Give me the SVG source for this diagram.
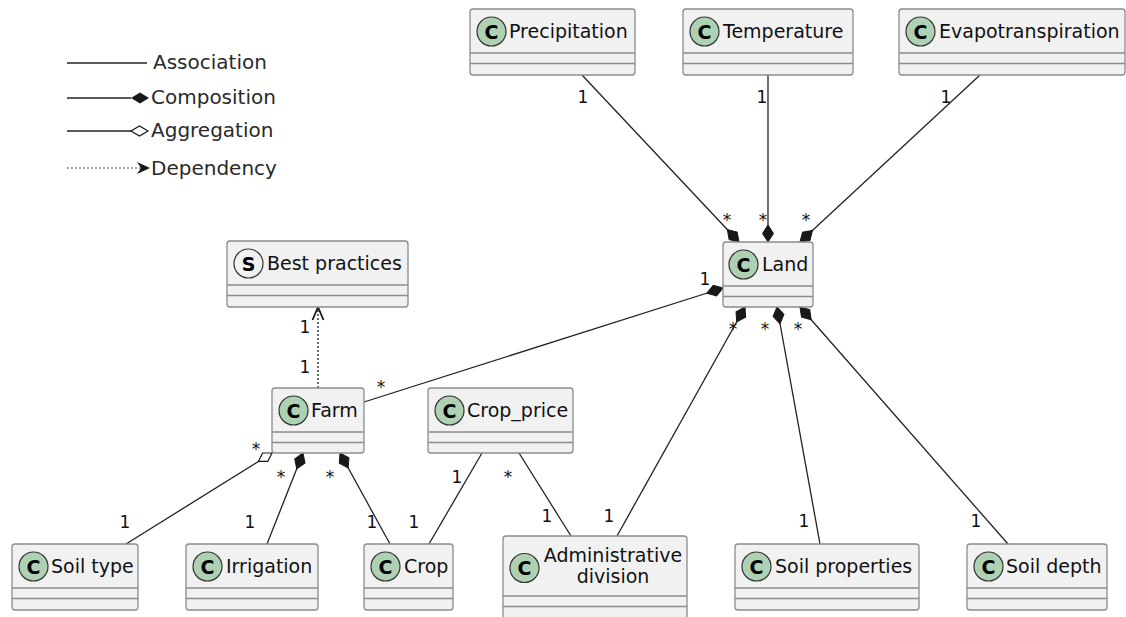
<svg xmlns="http://www.w3.org/2000/svg" width="1126" height="617" viewBox="0 0 1126 617">
<style>
.box{fill:#F1F1F1;stroke:#8C8C8C;stroke-width:1.3}
.sep{stroke:#8C8C8C;stroke-width:1.3}
.circ{fill:#ADD1B2;stroke:#333;stroke-width:1.2}
.circS{fill:#F1F1F1;stroke:#333;stroke-width:1.2}
.ltr{font-family:"DejaVu Sans",sans-serif;font-size:19px;font-weight:bold;fill:#000;text-anchor:middle}
.name{font-family:"DejaVu Sans",sans-serif;font-size:19px;fill:#111}
.lbl{font-family:"DejaVu Sans",sans-serif;font-size:17px;fill:#111;text-anchor:middle}
.leg{font-family:"DejaVu Sans",sans-serif;font-size:20px;fill:#2a2a2a}
.ln{stroke:#222;stroke-width:1.3;fill:none}
.comp{marker-end:url(#dFill)}
.aggr{marker-end:url(#dHollow)}
.dep{stroke-dasharray:2,2;marker-end:url(#open)}
</style>
<defs>
<marker id="dFill" markerUnits="userSpaceOnUse" markerWidth="20" markerHeight="14" viewBox="-18 -7 20 14" refX="0" refY="0" orient="auto" overflow="visible">
<path d="M0,0 L-8.5,-5.5 L-17,0 L-8.5,5.5 Z" fill="#181818" stroke="#181818" stroke-width="1"/>
</marker>
<marker id="dHollow" markerUnits="userSpaceOnUse" markerWidth="20" markerHeight="14" viewBox="-18 -7 20 14" refX="0" refY="0" orient="auto" overflow="visible">
<path d="M0,0 L-8,-5 L-16,0 L-8,5 Z" fill="#fff" stroke="#181818" stroke-width="1.2"/>
</marker>
<marker id="open" markerUnits="userSpaceOnUse" markerWidth="20" markerHeight="16" viewBox="-16 -8 20 16" refX="0" refY="0" orient="auto" overflow="visible">
<path d="M-13,-5.5 L0,0 L-13,5.5" fill="none" stroke="#181818" stroke-width="1.8"/>
</marker>
</defs>

<g id="legend">
<line class="ln" x1="67" y1="63" x2="147" y2="63"/>
<text class="leg" x="153" y="69">Association</text>
<line class="ln" x1="67" y1="98" x2="131" y2="98"/>
<path d="M149,98 L140,92.5 L131,98 L140,103.5 Z" fill="#181818"/>
<text class="leg" x="151" y="104">Composition</text>
<line class="ln" x1="67" y1="131" x2="131" y2="131"/>
<path d="M148,131 L139.5,126 L131,131 L139.5,136 Z" fill="#fff" stroke="#181818" stroke-width="1.2"/>
<text class="leg" x="151" y="137">Aggregation</text>
<line x1="67" y1="168" x2="143" y2="168" stroke="#444" stroke-width="1.2" stroke-dasharray="2,2"/>
<path d="M150,168 L137,162 L141,168 L137,174 Z" fill="#181818"/>
<text class="leg" x="151" y="175">Dependency</text>
</g>

<g id="connectors">
<line class="ln comp" x1="582" y1="75" x2="739" y2="242"/>
<line class="ln comp" x1="768" y1="75" x2="768" y2="242"/>
<line class="ln comp" x1="980" y1="75" x2="800" y2="242"/>
<line class="ln comp" x1="364" y1="402" x2="723" y2="288"/>
<line class="ln comp" x1="617" y1="536" x2="745" y2="307"/>
<line class="ln comp" x1="820" y1="544" x2="777" y2="307"/>
<line class="ln comp" x1="1008" y1="544" x2="800" y2="307"/>
<line class="ln dep" x1="318" y1="388" x2="318" y2="307"/>
<line class="ln aggr" x1="126" y1="544" x2="272" y2="453"/>
<line class="ln comp" x1="267" y1="544" x2="303" y2="453"/>
<line class="ln comp" x1="390" y1="544" x2="340" y2="453"/>
<line class="ln" x1="482" y1="453" x2="429" y2="544"/>
<line class="ln" x1="519" y1="453" x2="571" y2="536"/>
<g id="labels">
<text class="lbl" x="583" y="103">1</text>
<text class="lbl" x="727" y="226">*</text>
<text class="lbl" x="762" y="103">1</text>
<text class="lbl" x="763" y="226">*</text>
<text class="lbl" x="946" y="103">1</text>
<text class="lbl" x="806" y="226">*</text>
<text class="lbl" x="705" y="285">1</text>
<text class="lbl" x="381" y="393">*</text>
<text class="lbl" x="733" y="335">*</text>
<text class="lbl" x="765" y="335">*</text>
<text class="lbl" x="798" y="335">*</text>
<text class="lbl" x="609" y="522">1</text>
<text class="lbl" x="804" y="527">1</text>
<text class="lbl" x="976" y="527">1</text>
<text class="lbl" x="305" y="333">1</text>
<text class="lbl" x="305" y="373">1</text>
<text class="lbl" x="256" y="455">*</text>
<text class="lbl" x="125" y="528">1</text>
<text class="lbl" x="281" y="483">*</text>
<text class="lbl" x="250" y="528">1</text>
<text class="lbl" x="330" y="483">*</text>
<text class="lbl" x="372" y="528">1</text>
<text class="lbl" x="457" y="483">1</text>
<text class="lbl" x="414" y="528">1</text>
<text class="lbl" x="508" y="483">*</text>
<text class="lbl" x="547" y="522">1</text>
</g>
</g>

<g id="Precipitation">
<rect class="box" x="470" y="9" width="165" height="66" rx="3"/>
<line class="sep" x1="470" y1="53" x2="635" y2="53"/><line class="sep" x1="470" y1="63.5" x2="635" y2="63.5"/>
<circle class="circ" cx="491.5" cy="31.5" r="14.5"/><text class="ltr" x="491.5" y="38.5">C</text>
<text class="name" x="509" y="38">Precipitation</text>
</g>
<g id="Temperature">
<rect class="box" x="683" y="9" width="170" height="66" rx="3"/>
<line class="sep" x1="683" y1="53" x2="853" y2="53"/><line class="sep" x1="683" y1="63.5" x2="853" y2="63.5"/>
<circle class="circ" cx="704.5" cy="31.5" r="14.5"/><text class="ltr" x="704.5" y="38.5">C</text>
<text class="name" x="723" y="38">Temperature</text>
</g>
<g id="Evapotranspiration">
<rect class="box" x="899" y="9" width="226" height="66" rx="3"/>
<line class="sep" x1="899" y1="53" x2="1125" y2="53"/><line class="sep" x1="899" y1="63.5" x2="1125" y2="63.5"/>
<circle class="circ" cx="920.5" cy="31.5" r="14.5"/><text class="ltr" x="920.5" y="38.5">C</text>
<text class="name" x="939" y="38">Evapotranspiration</text>
</g>
<g id="Land">
<rect class="box" x="723" y="242" width="90" height="65" rx="3"/>
<line class="sep" x1="723" y1="286" x2="813" y2="286"/><line class="sep" x1="723" y1="296.5" x2="813" y2="296.5"/>
<circle class="circ" cx="743.5" cy="264.5" r="14.5"/><text class="ltr" x="743.5" y="271.5">C</text>
<text class="name" x="762" y="271">Land</text>
</g>
<g id="BestPractices">
<rect class="box" x="227" y="241" width="181" height="66" rx="3"/>
<line class="sep" x1="227" y1="285" x2="408" y2="285"/><line class="sep" x1="227" y1="295.5" x2="408" y2="295.5"/>
<circle class="circS" cx="248.5" cy="263.5" r="14.5"/><text class="ltr" x="248.5" y="270.5">S</text>
<text class="name" x="267" y="270">Best practices</text>
</g>
<g id="Farm">
<rect class="box" x="272" y="388" width="92" height="65" rx="3"/>
<line class="sep" x1="272" y1="432" x2="364" y2="432"/><line class="sep" x1="272" y1="442.5" x2="364" y2="442.5"/>
<circle class="circ" cx="293.5" cy="410.5" r="14.5"/><text class="ltr" x="293.5" y="417.5">C</text>
<text class="name" x="311" y="417">Farm</text>
</g>
<g id="CropPrice">
<rect class="box" x="428" y="388" width="145" height="65" rx="3"/>
<line class="sep" x1="428" y1="432" x2="573" y2="432"/><line class="sep" x1="428" y1="442.5" x2="573" y2="442.5"/>
<circle class="circ" cx="449.5" cy="410.5" r="14.5"/><text class="ltr" x="449.5" y="417.5">C</text>
<text class="name" x="467" y="417">Crop_price</text>
</g>
<g id="SoilType">
<rect class="box" x="12" y="544" width="126" height="66" rx="3"/>
<line class="sep" x1="12" y1="588" x2="138" y2="588"/><line class="sep" x1="12" y1="598.5" x2="138" y2="598.5"/>
<circle class="circ" cx="33.5" cy="566.5" r="14.5"/><text class="ltr" x="33.5" y="573.5">C</text>
<text class="name" x="51" y="573">Soil type</text>
</g>
<g id="Irrigation">
<rect class="box" x="186" y="544" width="132" height="66" rx="3"/>
<line class="sep" x1="186" y1="588" x2="318" y2="588"/><line class="sep" x1="186" y1="598.5" x2="318" y2="598.5"/>
<circle class="circ" cx="207.5" cy="566.5" r="14.5"/><text class="ltr" x="207.5" y="573.5">C</text>
<text class="name" x="226" y="573">Irrigation</text>
</g>
<g id="Crop">
<rect class="box" x="364" y="544" width="89" height="66" rx="3"/>
<line class="sep" x1="364" y1="588" x2="453" y2="588"/><line class="sep" x1="364" y1="598.5" x2="453" y2="598.5"/>
<circle class="circ" cx="385.5" cy="566.5" r="14.5"/><text class="ltr" x="385.5" y="573.5">C</text>
<text class="name" x="404" y="573">Crop</text>
</g>
<g id="AdministrativeDivision">
<rect class="box" x="503" y="536" width="184" height="90" rx="3"/>
<line class="sep" x1="503" y1="596" x2="687" y2="596"/><line class="sep" x1="503" y1="606.5" x2="687" y2="606.5"/>
<circle class="circ" cx="524.5" cy="568" r="14.5"/><text class="ltr" x="524.5" y="575">C</text>
<text class="name" x="613" y="562" text-anchor="middle">Administrative</text>
<text class="name" x="613" y="583" text-anchor="middle">division</text>
</g>
<g id="SoilProperties">
<rect class="box" x="735" y="544" width="184" height="66" rx="3"/>
<line class="sep" x1="735" y1="588" x2="919" y2="588"/><line class="sep" x1="735" y1="598.5" x2="919" y2="598.5"/>
<circle class="circ" cx="756.5" cy="566.5" r="14.5"/><text class="ltr" x="756.5" y="573.5">C</text>
<text class="name" x="775" y="573">Soil properties</text>
</g>
<g id="SoilDepth">
<rect class="box" x="967" y="544" width="140" height="66" rx="3"/>
<line class="sep" x1="967" y1="588" x2="1107" y2="588"/><line class="sep" x1="967" y1="598.5" x2="1107" y2="598.5"/>
<circle class="circ" cx="988.5" cy="566.5" r="14.5"/><text class="ltr" x="988.5" y="573.5">C</text>
<text class="name" x="1006" y="573">Soil depth</text>
</g>
</svg>
